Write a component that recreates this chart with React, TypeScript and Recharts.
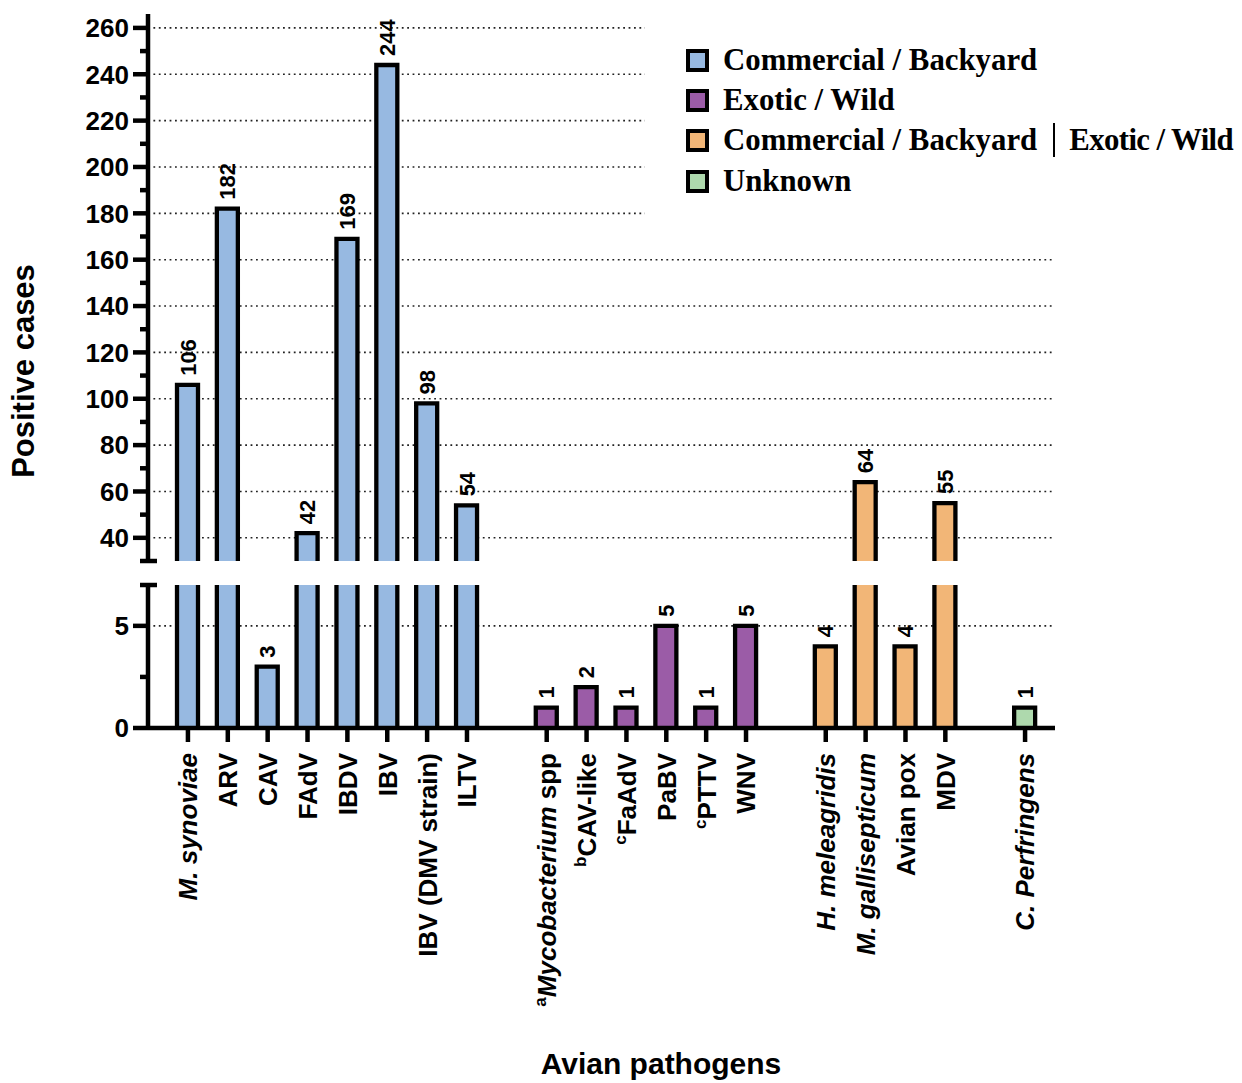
import { BarChart, Bar, XAxis, YAxis, CartesianGrid, Cell, LabelList } from 'recharts';

const commercialNames = ['M. synoviae', 'ARV', 'CAV', 'FAdV', 'IBDV', 'IBV', 'IBV (DMV strain)', 'ILTV'];
const commercialCases = [106, 182, 3, 42, 169, 244, 98, 54];
const exoticNames = ['Mycobacterium spp', 'CAV-like', 'FaAdV', 'PaBV', 'PTTV', 'WNV'];
const exoticCases = [1, 2, 1, 5, 1, 5];
const mixedNames = ['H. meleagridis', 'M. gallisepticum', 'Avian pox', 'MDV'];
const mixedCases = [4, 64, 4, 55];
const unknownNames = ['C. Perfringens'];
const unknownCases = [1];

// footnote letters and italic parts of the pathogen labels
const footnotes: Record<string, string> = { 'Mycobacterium spp': 'a', 'CAV-like': 'b', FaAdV: 'c', PTTV: 'c' };
const italicParts: Record<string, string> = {
  'M. synoviae': 'M. synoviae',
  'Mycobacterium spp': 'Mycobacterium',
  'H. meleagridis': 'H. meleagridis',
  'M. gallisepticum': 'M. gallisepticum',
  'C. Perfringens': 'C. Perfringens',
};

const upperTicks = [30, 40, 50, 60, 70, 80, 90, 100, 110, 120, 130, 140, 150, 160, 170, 180, 190, 200, 210, 220, 230, 240, 250, 260];
const upperGrid = [40, 60, 80, 100, 120, 140, 160, 180, 200, 220, 240, 260];
const lowerTicks = [0, 2.5, 5, 7];
const lowerGrid = [5];

const SANS = "'Liberation Sans', Arial, Helvetica, sans-serif";
const SERIF = "'Liberation Serif', 'Times New Roman', serif";

const groups = [
  { label: 'Commercial / Backyard', color: '#97b9e1', names: commercialNames, cases: commercialCases },
  { label: 'Exotic / Wild', color: '#9b5ca7', names: exoticNames, cases: exoticCases },
  { label: 'Commercial / Backyard | Exotic / Wild', color: '#f2b677', names: mixedNames, cases: mixedCases },
  { label: 'Unknown', color: '#aed9ad', names: unknownNames, cases: unknownCases },
];

const rows: any[] = [];
groups.forEach((g, gi) => {
  if (gi > 0) rows.push({ name: `gap${gi}`, value: null, upper: null, color: 'none' });
  g.names.forEach((n, i) => {
    const v = g.cases[i];
    rows.push({ name: n, value: v, upper: v >= 30 ? v : null, color: g.color });
  });
});

const W = 1242;
const MARGIN_RIGHT = W - 1055;
const X_PAD = { left: 20, right: 10 };

// bar with outline on three sides, so the broken ends stay open
const OpenBar = (props: any) => {
  const { x, y, width, height, fill } = props;
  if (!height || isNaN(height) || height <= 0) return null;
  return (
    <g>
      <rect x={x} y={y} width={width} height={height} fill={fill} />
      <path
        d={`M${x},${y + height} V${y} H${x + width} V${y + height}`}
        fill="none"
        stroke="#000"
        strokeWidth={4.3}
        strokeLinejoin="miter"
      />
    </g>
  );
};

const valueLabel = (min: number, max: number) => (props: any) => {
  const vb = props.viewBox ?? props;
  const { value } = props;
  if (value == null || value < min || value > max) return null;
  const cx = vb.x + vb.width / 2;
  const cy = vb.y - 9;
  return (
    <text
      transform={`translate(${cx + 8},${cy}) rotate(-90)`}
      textAnchor="start"
      fontSize={22}
      fontWeight="bold"
      fontFamily={SANS}
      fill="#000"
    >
      {value}
    </text>
  );
};

const yTick = (isMajor: (v: number) => boolean, capValue: number) => (props: any) => {
  const { x, y, payload } = props;
  const v = payload.value;
  if (v === capValue) {
    return <line x1={x - 8} x2={x + 9} y1={y} y2={y} stroke="#000" strokeWidth={4.5} />;
  }
  if (isMajor(v)) {
    return (
      <g>
        <line x1={x - 15} x2={x} y1={y} y2={y} stroke="#000" strokeWidth={4.5} />
        <text x={x - 19} y={y} dy="0.36em" textAnchor="end" fontSize={26} fontWeight="bold" fontFamily={SANS} fill="#000">
          {v}
        </text>
      </g>
    );
  }
  return <line x1={x - 8} x2={x} y1={y} y2={y} stroke="#000" strokeWidth={4.5} />;
};

const XTick = (props: any) => {
  const { x, y, payload } = props;
  const name: string = payload.value;
  if (name.startsWith('gap')) return null;
  const ly = y + 25;
  const sup = footnotes[name];
  const it = italicParts[name];
  const rest = it ? name.slice(it.length) : '';
  return (
    <g>
      <line x1={x} x2={x} y1={y} y2={y + 14} stroke="#000" strokeWidth={4.5} />
      <text
        transform={`translate(${x + 9.4},${ly}) rotate(-90)`}
        textAnchor="end"
        fontSize={26}
        fontWeight="bold"
        fontFamily={SANS}
        fill="#000"
      >
        {sup && <tspan fontSize={17} dy={-10}>{sup}</tspan>}
        <tspan dy={sup ? 10 : 0} fontStyle={it ? 'italic' : 'normal'}>{it || name}</tspan>
        {rest && <tspan>{rest}</tspan>}
      </text>
    </g>
  );
};

const Legend = () => (
  <div
    style={{
      position: 'absolute',
      left: 645,
      top: 20,
      width: W - 645,
      height: 210,
      background: '#fff',
      paddingTop: 20,
      paddingLeft: 41,
      boxSizing: 'border-box',
      fontFamily: SERIF,
      fontWeight: 'bold',
      fontSize: 30.8,
      whiteSpace: 'nowrap',
    }}
  >
    {groups.map((g) => (
      <div key={g.label} style={{ display: 'flex', alignItems: 'center', height: 40.3 }}>
        <div
          style={{
            width: 23,
            height: 23,
            border: '4px solid #000',
            boxSizing: 'border-box',
            background: g.color,
            marginRight: 14,
            flexShrink: 0,
          }}
        />
        {g.label.includes('|') ? (
          <span>
            {g.label.split(' | ')[0]}
            <span
              style={{
                display: 'inline-block',
                width: 2,
                height: 34,
                background: '#000',
                margin: '0 14px 0 16px',
                verticalAlign: -7,
              }}
            />
            <span style={{ letterSpacing: -0.6 }}>{g.label.split(' | ')[1]}</span>
          </span>
        ) : (
          <span>{g.label}</span>
        )}
      </div>
    ))}
  </div>
);

export default function App() {
  return (
    <div style={{ position: 'absolute', left: 0, top: 0, width: W, height: 1083, overflow: 'hidden', background: '#fff' }}>
      {/* upper segment of the broken axis */}
      <div style={{ position: 'absolute', left: 0, top: 0 }}>
        <BarChart width={W} height={575} data={rows} margin={{ top: 14, right: MARGIN_RIGHT, bottom: 14, left: 0 }} barSize={21}>
          <CartesianGrid vertical={false} horizontalValues={upperGrid} stroke="#222" strokeWidth={1.6} strokeDasharray="1.8 3.6" />
          <XAxis dataKey="name" type="category" hide padding={X_PAD} interval={0} />
          <YAxis
            type="number"
            domain={[30, 266]}
            allowDataOverflow
            ticks={upperTicks}
            interval={0}
            width={148}
            tickSize={0}
            tickMargin={0}
            tickLine={false}
            axisLine={{ stroke: '#000', strokeWidth: 4.5 }}
            tick={yTick((v) => v % 20 === 0, 30)}
          />
          <Bar dataKey="upper" isAnimationActive={false} shape={OpenBar}>
            {rows.map((r) => (
              <Cell key={r.name} fill={r.color} />
            ))}
            <LabelList dataKey="upper" content={valueLabel(30, 1000)} />
          </Bar>
        </BarChart>
      </div>
      {/* lower segment */}
      <div style={{ position: 'absolute', left: 0, top: 570 }}>
        <BarChart width={W} height={513} data={rows} margin={{ top: 15, right: MARGIN_RIGHT, bottom: 0, left: 0 }} barSize={21}>
          <CartesianGrid vertical={false} horizontalValues={lowerGrid} stroke="#222" strokeWidth={1.6} strokeDasharray="1.8 3.6" />
          <XAxis
            dataKey="name"
            type="category"
            padding={X_PAD}
            interval={0}
            height={355}
            tickSize={0}
            tickMargin={0}
            tickLine={false}
            axisLine={{ stroke: '#000', strokeWidth: 4.5 }}
            tick={<XTick />}
          />
          <YAxis
            type="number"
            domain={[0, 7]}
            allowDataOverflow
            ticks={lowerTicks}
            interval={0}
            width={148}
            tickSize={0}
            tickMargin={0}
            tickLine={false}
            axisLine={{ stroke: '#000', strokeWidth: 4.5 }}
            tick={yTick((v) => v === 0 || v === 5, 7)}
          />
          <Bar dataKey="value" isAnimationActive={false} shape={OpenBar}>
            {rows.map((r) => (
              <Cell key={r.name} fill={r.color} />
            ))}
            <LabelList dataKey="value" content={valueLabel(0, 7)} />
          </Bar>
        </BarChart>
      </div>
      <div
        style={{
          position: 'absolute',
          left: 23,
          top: 371,
          transform: 'translate(-50%, -50%) rotate(-90deg)',
          fontFamily: SANS,
          fontWeight: 'bold',
          fontSize: 31,
          lineHeight: '31px',
          whiteSpace: 'nowrap',
        }}
      >
        Positive cases
      </div>
      <div
        style={{
          position: 'absolute',
          left: 661,
          top: 1049,
          transform: 'translateX(-50%)',
          fontFamily: SANS,
          fontWeight: 'bold',
          fontSize: 30,
          lineHeight: '30px',
          whiteSpace: 'nowrap',
        }}
      >
        Avian pathogens
      </div>
      <Legend />
    </div>
  );
}
